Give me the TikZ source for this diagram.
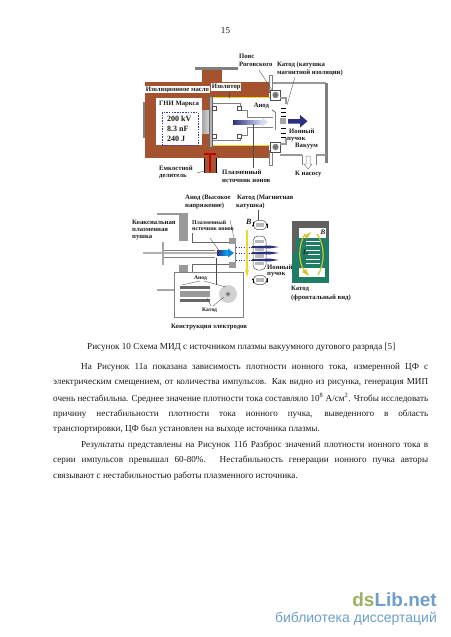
\documentclass[tikz,border=0pt]{standalone}
\usepackage{fontspec}
\setmainfont{Liberation Serif}
\newfontfamily\wmfont{Liberation Sans}
\usetikzlibrary{arrows.meta}
\definecolor{brownm}{HTML}{A5522E}
\definecolor{navyb}{HTML}{2C2F80}
\definecolor{skyb}{HTML}{B9C6EA}
\definecolor{tealc}{HTML}{1F7D66}
\definecolor{grayf}{HTML}{7F7F7F}
\definecolor{yelb}{HTML}{E8D92C}
\definecolor{wmgreen}{HTML}{9DB062}
\definecolor{wmblue}{HTML}{6E9FC9}
\definecolor{inkk}{HTML}{1A1A1A}
\definecolor{dashb}{HTML}{3A3AB0}
\newcommand{\lblf}{\fontsize{6.7}{7}\selectfont\bfseries}
\newcommand{\bodyf}{\fontsize{9.15}{11}\selectfont}
\tikzset{
 lab/.style={font=\lblf,inner sep=0pt,anchor=west,text=inkk},
 wlab/.style={lab,fill=white,inner sep=0.6pt},
 val/.style={font=\fontsize{8}{9}\selectfont\bfseries,inner sep=0pt,anchor=west,text=inkk},
 bodyl/.style={font=\bodyf,inner sep=0pt,anchor=west,text=inkk},
 lead/.style={draw=black!70,line width=0.35pt},
 gline/.style={draw=grayf,line width=1pt},
 gthick/.style={draw=grayf!80,line width=1.5pt},
 ringbox/.style={draw=black!70,line width=0.5pt,fill=white},
 dots/.style={draw=navyb,line width=1pt,dash pattern=on 1pt off 1.5pt},
 coilarrow/.style={black,-{Latex[length=2pt,width=2pt]},line width=0.4pt},
}
\newcommand{\jl}[1]{\makebox[375pt][s]{#1}}
\begin{document}
\begin{tikzpicture}[x=1pt,y=-1pt]
\useasboundingbox (0,0) rectangle (450,637);
\fill[white] (0,0) rectangle (450,637);
\node[bodyl,anchor=center] (pg) at (225.5,31) {15};
% ---------- upper figure
\fill[brownm] (145,82) rectangle (269,158);
\fill[brownm] (202,69) rectangle (222,82);
\fill[grayf] (195,67) rectangle (238,69.5);
\fill[grayf] (143,102) rectangle (145,138);
% Marx box
\fill[white] (156,98) rectangle (202,145);
\draw[dashb,line width=0.7pt,dash pattern=on 1.5pt off 1.2pt] (162,112) rectangle (198,145);
\shade[left color=gray!70,right color=gray!35] (202,110) rectangle (209,133);
% inner chamber
\fill[white] (210,98) rectangle (272,145);
\draw[yelb,line width=0.9pt] (212,97.5) -- (272,97.5);
\draw[yelb,line width=0.9pt] (212,145) -- (272,145);
\fill[gray!60] (209,96) rectangle (212,147);
\draw[black!60,line width=0.3pt] (209,96) rectangle (212,147);
% flanges
\fill[white] (269,75) rectangle (272,92);
\draw[gray,line width=0.3pt] (269,75) rectangle (272,92);
\fill[white] (269,150) rectangle (272,165);
\draw[gray,line width=0.3pt] (269,150) rectangle (272,165);
% chamber
\draw[gthick] (273,83) -- (326,83);
\fill[grayf] (325,83) rectangle (328,163);
\draw[gthick] (280,155) -- (302,155);
\draw[gthick] (316,155) -- (326,155);
\draw[gray,line width=0.7pt] (302,155) -- (302,165);
\draw[gray,line width=0.7pt] (316,155) -- (316,165);
\draw[gray,line width=0.5pt,fill=white] (306,156) -- (310,156) -- (310,164) -- (312,164) -- (308,169) -- (304,164) -- (306,164) -- cycle;
% rings
\foreach \yy in {95,147}{
  \draw[ringbox] (270.5,\yy-5) rectangle (280.5,\yy+5);
  \fill[gray] (275.5,\yy) circle (3.2);
  \fill[black!60] (275.5,\yy) circle (1.2);
}
% anode
\draw[gline] (213,103) -- (240,103) -- (240,110) -- (247,110) -- (247,117) -- (273,117);
\draw[gline] (213,140) -- (240,140) -- (240,135) -- (247,135) -- (247,127) -- (273,127);
\draw[gline] (275,112) -- (275,130);
\draw[gline] (272,110) -- (275,112);
\foreach \xx/\yy in {214/108,239/108,214/136,239/136}{
  \draw[black!70,line width=0.4pt,fill=white] (\xx-1.7,\yy-1.7) rectangle (\xx+1.7,\yy+1.7);
}
% cathode
\draw[gthick] (280,98) -- (286,98) -- (286,104);
\draw[gthick] (280,144) -- (286,144) -- (286,138);
\foreach \yy in {108,112,116,128,133,137}{ \draw[black,line width=0.9pt] (281,\yy) -- (286,\yy); }
\fill[gray!70] (280,117.5) rectangle (286,123.5);
% beams
\shade[left color=navyb,right color=skyb!60] (233,120) rectangle (262,124);
\fill[skyb!60] (262,117.5) -- (268,122) -- (262,126.5) -- cycle;
\fill[navyb] (288,119) rectangle (300,123.5) (300,115) -- (307.5,121.2) -- (300,127.5) -- cycle;
% T divider
\fill[brownm] (204,158) rectangle (216,173);
\draw[black,line width=0.8pt] (204,158) -- (204,173);
\draw[black,line width=0.8pt] (216,158) -- (216,173);
\fill[red!75!black] (204,153) rectangle (216,155);
\fill[red!75!black] (208.5,155) rectangle (211,172);
% leaders
\coordinate (l1a) at (259,70); \coordinate (l1b) at (272,90);
\coordinate (l2a) at (295,77); \coordinate (l2b) at (287,105);
\coordinate (l3a) at (253,124); \coordinate (l3b) at (253,168);
\coordinate (l4a) at (197,173); \coordinate (l4b) at (204,171);
\coordinate (l5a) at (229,92); \coordinate (l5b) at (229,98);
\draw[lead] (l1a) -- (l1b);
\draw[lead] (l2a) -- (l2b);
\draw[lead] (l3a) -- (l3b);
\draw[lead] (l4a) -- (l4b);
\draw[lead] (l5a) -- (l5b);
% labels
\node[lab] (t1) at (239,56) {Пояс};
\node[lab] (t2) at (239,64.5) {Роговского};
\node[lab] (t3) at (277,64.5) {Катод (катушка};
\node[lab] (t4) at (277,73) {магнитной изоляции)};
\node[wlab] (t5) at (145,89.5) {Изоляционное масло};
\node[wlab] (t6) at (211,87) {Изолятор};
\node[wlab] (t7) at (253,105.5) {Анод};
\node[lab] (t8) at (159,104) {ГНИ Маркса};
\node[val] (v1) at (167,119) {200 kV};
\node[val] (v2) at (167,129) {8.3 nF};
\node[val] (v3) at (167,139) {240 J};
\node[lab] (t9) at (289,131) {Ионный};
\node[lab] (t10) at (287,139.5) {пучок};
\node[lab] (t11) at (295,146.5) {Вакуум};
\node[lab] (t12) at (295,174) {К насосу};
\node[lab] (t13) at (159,168) {Емкостной};
\node[lab] (t14) at (159,177) {делитель};
\node[lab] (t15) at (222,172) {Плазменный};
\node[lab] (t16) at (222,181) {источник ионов};
% ---------- lower figure
\draw[gthick,line width=2pt] (157,214) -- (188,214);
\fill[gray!80] (179,214) rectangle (188,241);
\draw[black!60,line width=0.8pt] (192,233) -- (192,242) -- (230,242);
\draw[black!60,line width=0.8pt] (192,272) -- (192,264) -- (230,264);
\fill[gray!80] (179,265) rectangle (188,272);
\fill[gray!80] (229,238) rectangle (236,244);
\fill[gray!80] (229,262) rectangle (236,268);
\draw[gray,line width=1pt] (235,244) -- (235,262);
% gun
\draw[gray!60,line width=2pt] (143,253) -- (217,253);
\draw[gray,line width=0.8pt] (163,250) -- (215,250);
\draw[gray,line width=0.8pt] (163,257) -- (215,257);
\draw[gray!70,line width=1.5pt] (163,242) -- (163,265);
\shade[left color=navyb,right color=cyan!70!blue] (217,250.5) rectangle (228,255.5);
\fill[cyan!70!blue] (228,248.5) -- (234,253) -- (228,257.5) -- cycle;
% coils
\draw[black!70,line width=0.5pt,fill=white,rounded corners=5pt] (253,236) rectangle (266,270);
\foreach \yy in {241.5,249,256,263.5}{ \fill[gray!55] (255,\yy-1.8) rectangle (264,\yy+1.8); }
\foreach \yy in {225,280}{
  \draw[black!70,line width=0.5pt,fill=white,rounded corners=4pt] (253.5,\yy-4.5) rectangle (266.5,\yy+4.5);
  \fill[gray!55] (256,\yy-1.8) rectangle (264,\yy+1.8);
}
\draw[coilarrow] (267,228) -- (267,223);
\draw[coilarrow] (253,222) -- (253,227);
\draw[coilarrow] (253,283) -- (253,278);
\draw[coilarrow] (267,278) -- (267,283);
% beams lower
\foreach \yy in {247,253,260}{
  \draw[dots] (236,\yy) -- (252,\yy);
  \fill[navyb] (252,\yy-0.8) -- (270,\yy-1.4) -- (279,\yy) -- (270,\yy+1.4) -- (252,\yy+0.8) -- cycle;
}
% yellow arrow
\draw[yelb,line width=1.1pt] (247,230) -- (247,270);
\fill[yelb] (245,270) -- (249,270) -- (247,277) -- cycle;
% core
\fill[gray!75!black] (292,221) rectangle (329,255);
\fill[tealc] (292,253) rectangle (329,283);
\fill[white] (299,228) rectangle (326,238);
\fill[white] (299,268) rectangle (325,277);
\fill[tealc] (296,238) rectangle (329,253);
\fill[tealc] (292,253) rectangle (329,268);
\foreach \yy in {241,245.5,250,254.5,259,263.5}{ \draw[white,line width=0.3pt] (306,\yy) -- (320,\yy); }
\draw[yelb!90!black,line width=1.2pt] (305,234) .. controls (298,245) and (298,263) .. (305,272);
\draw[yelb!90!black,line width=1.2pt] (317,234) .. controls (325,245) and (325,263) .. (318,275);
\fill[yelb!90!black] (311,232) -- (304,236) -- (307,239) -- cycle;
\fill[yelb!90!black] (309,276) -- (302,272) -- (306,269) -- cycle;
% box
\draw[gray,line width=0.6pt,fill=white] (174,272) rectangle (243,317);
\draw[gray!70,line width=1.2pt] (157,290) -- (174,290);
\fill[black!60] (180,286) rectangle (210,289);
\fill[gray!80] (180,291) rectangle (210,297);
\fill[black!60] (180,299) rectangle (210,302);
\fill[gray!35] (228,294) circle (9);
\fill[gray!70] (228,294) circle (2.6);
\fill[black!70] (228,294) circle (1);
% leaders lower
\coordinate (m1a) at (230,220); \coordinate (m1b) at (234,238);
\coordinate (m2a) at (210,238); \coordinate (m2b) at (220,252);
\coordinate (m3a) at (216,258); \coordinate (m3b) at (216,285);
\coordinate (m4a) at (258,210); \coordinate (m4b) at (258,220);
\coordinate (m5a) at (200,281); \coordinate (m5b) at (182,285);
\coordinate (m6a) at (204,281); \coordinate (m6b) at (226,287);
\coordinate (m7a) at (211,306); \coordinate (m7b) at (207,298);
\coordinate (m8a) at (213,306); \coordinate (m8b) at (224,297);
\draw[lead] (m1a) -- (m1b);
\draw[lead] (m2a) -- (m2b);
\draw[lead] (m3a) -- (m3b);
\draw[lead] (m4a) -- (m4b);
\draw[lead] (m5a) -- (m5b);
\draw[lead] (m6a) -- (m6b);
\draw[lead] (m7a) -- (m7b);
\draw[lead] (m8a) -- (m8b);
% lower labels
\node[lab] (u1) at (185,198) {Анод (Высокое};
\node[lab] (u2) at (185,206) {напряжение)};
\node[lab] (u3) at (237,198) {Катод (Магнитная};
\node[lab] (u4) at (236,206) {катушка)};
\node[lab] (u5) at (132,222) {Коаксиальная};
\node[lab] (u6) at (132,230) {плазменная};
\node[lab] (u7) at (132,238) {пушка};
\node[lab,font=\fontsize{5.8}{6}\selectfont\bfseries] (u8) at (192,223) {Плазменный};
\node[lab,font=\fontsize{5.8}{6}\selectfont\bfseries] (u9) at (192,229.5) {источник ионов};
\node[lab] (u10) at (267,267) {Ионный};
\node[lab] (u11) at (267,275) {пучок};
\node[lab] (u12) at (291,289) {Катод};
\node[lab] (u13) at (291,298) {(фронтальный вид)};
\node[lab] (u14) at (171,327) {Конструкция электродов};
\node[lab,font=\fontsize{5.6}{6}\selectfont\bfseries] (u15) at (194,278) {Анод};
\node[lab,font=\fontsize{5.6}{6}\selectfont\bfseries] (u16) at (202,310) {Катод};
\node[lab,font=\fontsize{8}{9}\selectfont\bfseries\itshape] (u17) at (246,222) {B};
\node[lab,fill=white,inner sep=0.5pt,font=\fontsize{7}{8}\selectfont\bfseries\itshape] (u18) at (320,232) {B};
\node[lab,font=\fontsize{7}{8}\selectfont\bfseries\itshape] (u19) at (303,253) {I\textsubscript{п}};
% ---------- text
\node[bodyl] (c0) at (87,347) {Рисунок 10 Схема МИД с источником плазмы вакуумного дугового разряда [5]};
\node[bodyl] (p1) at (81,367) {\makebox[347pt][s]{На Рисунок 11а показана зависимость плотности ионного тока, измеренной ЦФ с}};
\node[bodyl] (p2) at (53,382.5) {\jl{электрическим смещением, от количества импульсов. Как видно из рисунка, генерация МИП}};
\node[bodyl] (p3) at (53,398) {\jl{очень нестабильна. Среднее значение плотности тока составляло 10\textsuperscript{8} А/см\textsuperscript{2}. Чтобы исследовать}};
\node[bodyl] (p4) at (53,414) {\jl{причину нестабильности плотности тока ионного пучка, выведенного в область}};
\node[bodyl] (p5) at (53,429.5) {транспортировки, ЦФ был установлен на выходе источника плазмы.};
\node[bodyl] (p6) at (81,445) {\makebox[347pt][s]{Результаты представлены на Рисунок 11б Разброс значений плотности ионного тока в}};
\node[bodyl] (p7) at (53,460.5) {\jl{серии импульсов превышал 60-80\%. Нестабильность генерации ионного пучка авторы}};
\node[bodyl] (p8) at (53,476) {связывают с нестабильностью работы плазменного источника.};
% watermark
\node[inner sep=0pt,anchor=base east,font=\wmfont\bfseries\fontsize{19}{21}\selectfont] (w1) at (437,606) {\textcolor{wmgreen}{ds}\textcolor{wmblue}{Lib.net}};
\node[inner sep=0pt,anchor=base east,text=wmblue,font=\wmfont\fontsize{14}{16}\selectfont] (w2) at (437,622) {библиотека диссертаций};
\end{tikzpicture}
\end{document}
